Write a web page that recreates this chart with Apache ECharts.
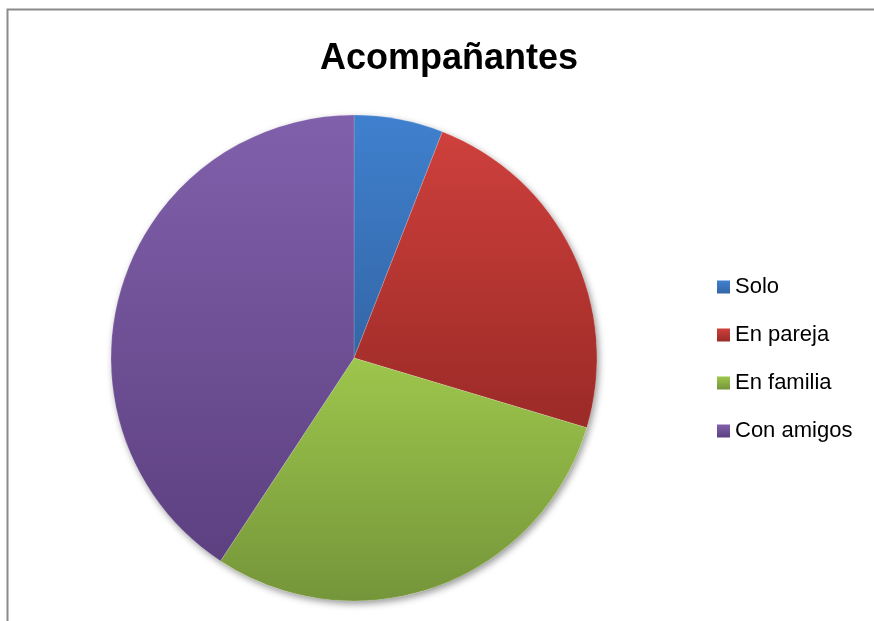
<!DOCTYPE html>
<html>
<head>
<meta charset="utf-8">
<style>
  html, body { margin: 0; padding: 0; background: #ffffff; }
  #chart { width: 874px; height: 621px; }
</style>
<script src="https://cdn.jsdelivr.net/npm/echarts@6/dist/echarts.min.js"></script>
</head>
<body>
<div id="chart"></div>
<script>
// Companion type of respondents
const categories = ['Solo', 'En pareja', 'En familia', 'Con amigos'];
const values = [8, 32, 40, 55];
// Top (light) and bottom (dark) shade for each slice
const lightColors = ['#3F80CE', '#CE403C', '#9DC64C', '#8160AB'];
const darkColors = ['#3466A6', '#9B2A27', '#75953A', '#5C4080'];

const chart = echarts.init(document.getElementById('chart'));

const pieData = categories.map((name, i) => ({
  name: name,
  value: values[i],
  itemStyle: {
    color: new echarts.graphic.LinearGradient(0, 0, 0, 1, [
      { offset: 0, color: lightColors[i] },
      { offset: 1, color: darkColors[i] }
    ])
  }
}));

const center = [354, 358];
const radius = 243;

chart.setOption({
  backgroundColor: '#ffffff',
  animation: false,
  title: {
    text: 'Acompañantes',
    left: 444,
    textAlign: 'center',
    top: 36,
    textStyle: {
      fontFamily: 'Liberation Sans',
      fontWeight: 'bold',
      fontSize: 36,
      color: '#000000'
    }
  },
  legend: {
    orient: 'vertical',
    left: 712,
    top: 270,
    icon: 'rect',
    itemWidth: 13,
    itemHeight: 13,
    itemGap: 24,
    data: categories,
    itemStyle: { borderWidth: 0, shadowBlur: 0, shadowOffsetX: 0, shadowOffsetY: 0 },
    textStyle: {
      fontFamily: 'Liberation Sans',
      fontSize: 22,
      lineHeight: 24,
      color: '#000000',
      padding: [0, 0, 0, 0]
    }
  },
  graphic: [{
    type: 'rect',
    shape: { x: 7.5, y: 9.5, width: 900, height: 700 },
    style: { fill: 'none', stroke: '#8a8a8a', lineWidth: 2 },
    silent: true,
    z: -1
  }],
  series: [
    {
      // plain disc under the slices that casts the drop shadow
      name: 'shadow',
      type: 'pie',
      center: center,
      radius: [0, radius],
      silent: true,
      z: 1,
      label: { show: false },
      labelLine: { show: false },
      itemStyle: {
        color: '#ffffff',
        shadowColor: 'rgba(0,0,0,0.4)',
        shadowBlur: 7,
        shadowOffsetX: 2,
        shadowOffsetY: 3
      },
      data: [{ name: 'base', value: 1 }]
    },
    {
      type: 'pie',
      center: center,
      radius: [0, radius],
      startAngle: 90,
      clockwise: true,
      z: 2,
      label: { show: false },
      labelLine: { show: false },
      emphasis: { disabled: true },
      itemStyle: {
        borderColor: 'rgba(255,255,255,0.25)',
        borderWidth: 0.6
      },
      data: pieData
    }
  ]
});
</script>
</body>
</html>
